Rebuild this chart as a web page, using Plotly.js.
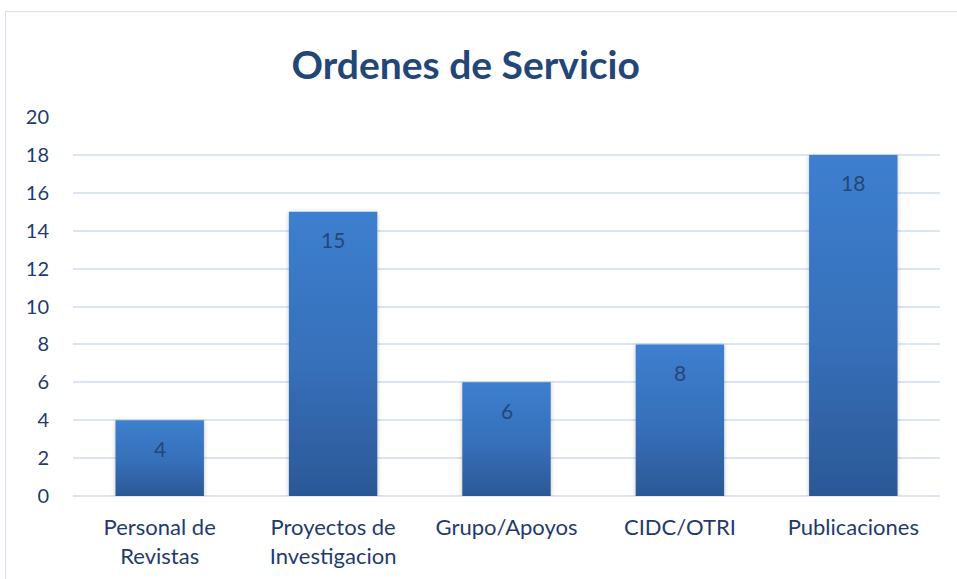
<!DOCTYPE html>
<html>
<head>
<meta charset="utf-8">
<script src="https://cdn.plot.ly/plotly-3.0.1.min.js"></script>
<style>
html,body{margin:0;padding:0;background:#fff;overflow:hidden;}
#frame{position:absolute;left:5px;top:11px;width:1000px;height:700px;border:1.5px solid #d6e0ee;box-sizing:border-box;}
#chart{position:absolute;left:0;top:0;width:957px;height:579px;}
</style>
</head>
<body>
<div id="frame"></div>
<div id="chart"></div>
<script>
var categories = ["Personal de<br>Revistas", "Proyectos de<br>Investigacion", "Grupo/Apoyos", "CIDC/OTRI", "Publicaciones"];
var values = [4, 15, 6, 8, 18];
var yTicks = [0, 2, 4, 6, 8, 10, 12, 14, 16, 18, 20];

var textColor = "#1f3b6e";
var font = "Lato, 'Open Sans', sans-serif";

var trace = {
  type: "bar",
  x: categories,
  y: values,
  marker: {color: "#3470b8", line: {width: 0}},
  hoverinfo: "none"
};

var annotations = categories.map(function(c, i){
  return {x: c, y: values[i], xref: "x", yref: "y", text: String(values[i]),
    showarrow: false, yshift: -28, font: {family: font, size: 21, color: "#24477a"}};
});

var layout = {
  width: 957, height: 579,
  margin: {l: 73, r: 17, t: 117, b: 83},
  paper_bgcolor: "rgba(0,0,0,0)",
  plot_bgcolor: "rgba(0,0,0,0)",
  bargap: 0.49,
  showlegend: false,
  title: {text: "Ordenes de Servicio", x: 0.453, xref: "paper", xanchor: "center", y: 0.887, yanchor: "middle",
    font: {family: font, size: 39, color: "#234679", weight: "bold"}},
  xaxis: {tickfont: {family: font, size: 22, color: textColor}, showgrid: false, zeroline: false,
    showline: false, ticks: "outside", ticklen: 12, tickcolor: "rgba(0,0,0,0)", fixedrange: true},
  yaxis: {range: [0, 20], tickvals: yTicks, ticktext: yTicks.map(String), showgrid: true,
    gridcolor: "#dae4f2", gridwidth: 2, zeroline: true, zerolinecolor: "#dae4f2", zerolinewidth: 2,
    showline: false, ticks: "outside", ticklen: 19, tickcolor: "rgba(0,0,0,0)",
    tickfont: {family: font, size: 20, color: textColor}, fixedrange: true},
  annotations: annotations
};

Plotly.newPlot("chart", [trace], layout, {staticPlot: true, displayModeBar: false}).then(function(gd){
  var svg = gd.querySelector("svg.main-svg");
  var ns = "http://www.w3.org/2000/svg";
  var defs = svg.querySelector("defs") || svg.insertBefore(document.createElementNS(ns, "defs"), svg.firstChild);
  var grad = document.createElementNS(ns, "linearGradient");
  grad.setAttribute("id", "barGrad");
  grad.setAttribute("x1", "0"); grad.setAttribute("y1", "0");
  grad.setAttribute("x2", "0"); grad.setAttribute("y2", "1");
  [["0", "#3d7fcf"], ["0.55", "#366fb9"], ["1", "#2b5896"]].forEach(function(s){
    var st = document.createElementNS(ns, "stop");
    st.setAttribute("offset", s[0]); st.setAttribute("stop-color", s[1]);
    grad.appendChild(st);
  });
  defs.appendChild(grad);
  var filt = document.createElementNS(ns, "filter");
  filt.setAttribute("id", "barShadow");
  filt.setAttribute("x", "-20%"); filt.setAttribute("y", "-10%");
  filt.setAttribute("width", "140%"); filt.setAttribute("height", "130%");
  var ds = document.createElementNS(ns, "feDropShadow");
  ds.setAttribute("dx", "0"); ds.setAttribute("dy", "1");
  ds.setAttribute("stdDeviation", "2"); ds.setAttribute("flood-color", "#000");
  ds.setAttribute("flood-opacity", "0.25");
  filt.appendChild(ds);
  defs.appendChild(filt);
  gd.querySelectorAll(".bars .point path").forEach(function(p){
    p.style.fill = "url(#barGrad)";
    p.setAttribute("filter", "url(#barShadow)");
  });
});
</script>
</body>
</html>
